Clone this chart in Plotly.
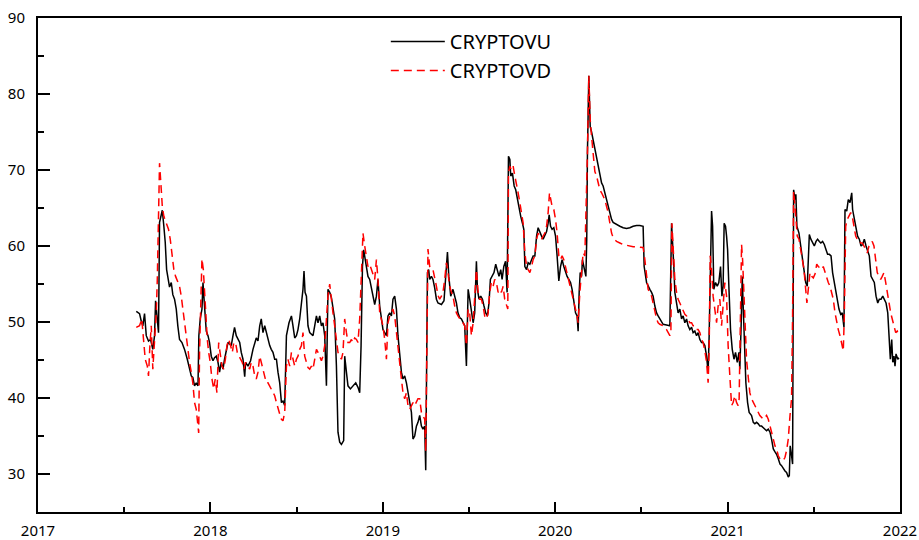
import plotly.graph_objects as go

# CRYPTOVU (black, solid) — decimal-year time and index value
U_t = [
    2017.570, 2017.589, 2017.599, 2017.608, 2017.618, 2017.628, 2017.641, 2017.653, 2017.666, 2017.676,
    2017.682, 2017.692, 2017.699, 2017.705, 2017.721, 2017.730, 2017.738, 2017.746, 2017.757, 2017.763,
    2017.773, 2017.782, 2017.792, 2017.802, 2017.811, 2017.821, 2017.835, 2017.850, 2017.866, 2017.879,
    2017.889, 2017.898, 2017.908, 2017.918, 2017.928, 2017.933, 2017.941, 2017.951, 2017.957, 2017.962,
    2017.970, 2017.976, 2017.986, 2017.995, 2018.005, 2018.015, 2018.024, 2018.034, 2018.044, 2018.053,
    2018.063, 2018.073, 2018.082, 2018.092, 2018.102, 2018.111, 2018.121, 2018.131, 2018.140, 2018.150,
    2018.160, 2018.170, 2018.179, 2018.189, 2018.199, 2018.204, 2018.218, 2018.233, 2018.247, 2018.257,
    2018.266, 2018.276, 2018.286, 2018.295, 2018.305, 2018.315, 2018.324, 2018.334, 2018.344, 2018.353,
    2018.363, 2018.373, 2018.383, 2018.392, 2018.402, 2018.412, 2018.421, 2018.431, 2018.441, 2018.456,
    2018.470, 2018.479, 2018.489, 2018.499, 2018.508, 2018.518, 2018.528, 2018.537, 2018.543, 2018.549,
    2018.557, 2018.566, 2018.576, 2018.586, 2018.595, 2018.605, 2018.615, 2018.624, 2018.634, 2018.644,
    2018.653, 2018.663, 2018.673, 2018.682, 2018.692, 2018.702, 2018.711, 2018.721, 2018.731, 2018.740,
    2018.750, 2018.760, 2018.773, 2018.779, 2018.789, 2018.798, 2018.812, 2018.827, 2018.843, 2018.856,
    2018.866, 2018.874, 2018.882, 2018.889, 2018.897, 2018.905, 2018.914, 2018.924, 2018.934, 2018.943,
    2018.953, 2018.963, 2018.972, 2018.982, 2018.992, 2019.001, 2019.011, 2019.021, 2019.030, 2019.040,
    2019.050, 2019.059, 2019.069, 2019.079, 2019.088, 2019.098, 2019.108, 2019.117, 2019.127, 2019.137,
    2019.146, 2019.156, 2019.166, 2019.175, 2019.185, 2019.195, 2019.204, 2019.214, 2019.224, 2019.233,
    2019.243, 2019.249, 2019.253, 2019.259, 2019.266, 2019.272, 2019.282, 2019.291, 2019.301, 2019.311,
    2019.320, 2019.340, 2019.355, 2019.365, 2019.375, 2019.383, 2019.394, 2019.407, 2019.417, 2019.427,
    2019.436, 2019.446, 2019.456, 2019.465, 2019.475, 2019.485, 2019.495, 2019.504, 2019.514, 2019.524,
    2019.533, 2019.543, 2019.549, 2019.558, 2019.568, 2019.578, 2019.587, 2019.597, 2019.607, 2019.616,
    2019.624, 2019.634, 2019.645, 2019.655, 2019.665, 2019.674, 2019.684, 2019.692, 2019.702, 2019.712,
    2019.721, 2019.729, 2019.737, 2019.742, 2019.752, 2019.762, 2019.771, 2019.781, 2019.791, 2019.800,
    2019.810, 2019.818, 2019.824, 2019.834, 2019.843, 2019.853, 2019.863, 2019.872, 2019.882, 2019.892,
    2019.901, 2019.911, 2019.921, 2019.930, 2019.940, 2019.950, 2019.959, 2019.965, 2019.973, 2019.982,
    2019.992, 2020.002, 2020.011, 2020.021, 2020.031, 2020.040, 2020.050, 2020.060, 2020.069, 2020.079,
    2020.089, 2020.098, 2020.108, 2020.118, 2020.127, 2020.133, 2020.139, 2020.145, 2020.153, 2020.158,
    2020.166, 2020.172, 2020.178, 2020.183, 2020.187, 2020.195, 2020.203, 2020.211, 2020.220, 2020.230,
    2020.240, 2020.249, 2020.259, 2020.269, 2020.278, 2020.288, 2020.298, 2020.307, 2020.317, 2020.327,
    2020.336, 2020.356, 2020.375, 2020.394, 2020.414, 2020.433, 2020.452, 2020.472, 2020.491, 2020.510,
    2020.516, 2020.530, 2020.539, 2020.549, 2020.559, 2020.568, 2020.578, 2020.588, 2020.597, 2020.607,
    2020.617, 2020.626, 2020.646, 2020.665, 2020.675, 2020.681, 2020.688, 2020.694, 2020.704, 2020.713,
    2020.723, 2020.733, 2020.742, 2020.752, 2020.762, 2020.771, 2020.781, 2020.791, 2020.800, 2020.810,
    2020.820, 2020.829, 2020.839, 2020.849, 2020.858, 2020.868, 2020.878, 2020.887, 2020.893, 2020.901,
    2020.907, 2020.913, 2020.920, 2020.930, 2020.940, 2020.949, 2020.959, 2020.967, 2020.974, 2020.980,
    2020.988, 2020.994, 2021.000, 2021.008, 2021.017, 2021.027, 2021.037, 2021.046, 2021.056, 2021.066,
    2021.071, 2021.079, 2021.085, 2021.091, 2021.096, 2021.106, 2021.116, 2021.125, 2021.139, 2021.149,
    2021.158, 2021.168, 2021.178, 2021.187, 2021.197, 2021.207, 2021.216, 2021.226, 2021.236, 2021.246,
    2021.255, 2021.265, 2021.275, 2021.284, 2021.294, 2021.304, 2021.313, 2021.323, 2021.333, 2021.342,
    2021.352, 2021.358, 2021.363, 2021.371, 2021.377, 2021.383, 2021.391, 2021.396, 2021.402, 2021.414,
    2021.424, 2021.433, 2021.443, 2021.453, 2021.462, 2021.468, 2021.474, 2021.483, 2021.493, 2021.503,
    2021.513, 2021.522, 2021.532, 2021.541, 2021.551, 2021.561, 2021.571, 2021.580, 2021.590, 2021.600,
    2021.609, 2021.619, 2021.629, 2021.636, 2021.646, 2021.656, 2021.665, 2021.675, 2021.681, 2021.691,
    2021.700, 2021.710, 2021.720, 2021.725, 2021.735, 2021.745, 2021.754, 2021.764, 2021.774, 2021.783,
    2021.793, 2021.803, 2021.812, 2021.822, 2021.832, 2021.842, 2021.851, 2021.861, 2021.871, 2021.880,
    2021.890, 2021.900, 2021.909, 2021.919, 2021.929, 2021.938, 2021.944, 2021.952, 2021.958, 2021.965,
    2021.971, 2021.977, 2021.987, 2021.994,
]
U_v = [
    51.4, 51.1, 50.1, 49.5, 51.1, 48.2, 47.5, 47.7, 46.4, 48.2,
    52.8, 50.1, 48.6, 63.1, 64.7, 62.6, 60.5, 56.9, 55.6, 54.6,
    55.2, 53.6, 53.0, 51.7, 49.5, 47.7, 47.3, 46.4, 45.1, 43.8,
    42.9, 42.7, 41.6, 42.0, 41.6, 48.2, 50.4, 51.7, 55.2, 53.4,
    50.4, 48.8, 48.2, 47.3, 45.5, 44.9, 45.3, 45.5, 44.7, 43.4,
    44.7, 43.8, 45.1, 46.0, 47.3, 47.1, 46.9, 48.2, 49.3, 48.2,
    47.7, 47.3, 46.0, 45.1, 42.8, 44.7, 44.2, 44.9, 46.4, 47.3,
    47.9, 47.5, 49.5, 50.4, 48.6, 49.5, 48.6, 47.5, 46.9, 46.4,
    46.0, 45.1, 45.1, 43.4, 42.0, 39.4, 39.6, 39.0, 48.2, 49.9,
    50.8, 49.5, 47.9, 48.2, 49.0, 50.4, 52.5, 54.3, 56.7, 53.9,
    53.4, 49.5, 48.6, 48.4, 48.2, 49.5, 50.8, 49.9, 50.8, 49.5,
    49.9, 48.2, 41.6, 54.3, 53.9, 53.2, 52.1, 50.4, 44.2, 35.5,
    34.2, 33.9, 34.4, 45.5, 43.4, 41.6, 41.2, 41.6, 42.0, 41.4,
    40.7, 46.9, 57.3, 59.5, 58.2, 57.3, 56.0, 55.6, 54.3, 53.4,
    52.3, 53.4, 55.6, 52.1, 50.4, 49.0, 48.6, 48.2, 50.8, 51.2,
    50.8, 53.0, 53.4, 51.7, 48.2, 45.5, 43.4, 42.5, 42.9, 42.0,
    40.7, 39.4, 38.1, 34.6, 35.0, 36.3, 36.8, 37.7, 36.3, 35.9,
    36.3, 30.5, 44.7, 56.5, 56.9, 55.6, 56.0, 55.6, 54.5, 53.0,
    52.5, 52.3, 52.8, 56.0, 59.2, 56.0, 53.4, 54.3, 53.4, 52.5,
    51.2, 50.6, 50.4, 49.9, 49.5, 44.2, 54.3, 53.0, 51.2, 49.9,
    51.2, 58.0, 54.3, 53.0, 53.4, 53.0, 52.1, 51.2, 50.8, 52.5,
    55.6, 56.0, 56.5, 57.6, 56.5, 56.0, 56.9, 55.6, 57.3, 58.0,
    53.9, 71.8, 71.4, 69.2, 69.6, 67.9, 67.4, 66.1, 65.2, 63.9,
    63.0, 62.2, 57.3, 56.9, 57.8, 57.6, 58.2, 58.7, 58.7, 61.3,
    62.4, 61.7, 61.3, 60.9, 61.5, 61.9, 63.0, 64.1, 62.6, 62.2,
    62.4, 61.3, 58.7, 55.4, 57.3, 58.2, 57.3, 56.5, 56.0, 55.6,
    55.2, 54.3, 53.0, 51.2, 50.8, 48.8, 53.9, 56.5, 56.0, 58.2,
    57.3, 56.5, 56.0, 60.9, 72.2, 82.4, 75.7, 75.0, 74.0, 72.4,
    71.4, 70.5, 69.2, 68.3, 67.9, 67.0, 66.1, 65.2, 64.4, 63.5,
    63.1, 62.8, 62.6, 62.4, 62.3, 62.4, 62.6, 62.7, 62.7, 62.6,
    57.3, 55.2, 54.7, 54.3, 53.9, 53.4, 52.1, 51.2, 50.8, 50.4,
    49.9, 49.7, 49.6, 49.5, 63.0, 60.9, 57.3, 53.9, 52.5, 51.2,
    51.7, 50.4, 50.8, 49.9, 50.4, 49.5, 49.0, 49.3, 48.6, 48.8,
    48.2, 48.6, 47.7, 47.3, 47.3, 46.9, 45.5, 43.4, 48.2, 59.5,
    64.6, 62.6, 54.3, 55.2, 54.7, 55.2, 57.3, 53.4, 54.7, 63.0,
    62.6, 61.3, 59.5, 54.3, 49.0, 46.4, 45.1, 46.0, 44.7, 46.0,
    43.8, 49.9, 56.0, 51.7, 47.3, 42.0, 39.4, 38.1, 37.7, 36.8,
    36.6, 36.8, 36.6, 36.3, 36.3, 36.1, 35.9, 35.7, 35.9, 35.5,
    34.6, 33.3, 32.9, 32.6, 32.0, 31.3, 31.1, 30.7, 30.4, 30.2,
    29.6, 29.8, 33.7, 32.4, 31.3, 67.4, 66.1, 66.8, 62.6, 61.7,
    60.0, 58.2, 56.5, 55.2, 54.7, 57.3, 61.5, 60.9, 60.4, 60.0,
    60.6, 60.9, 60.6, 60.4, 60.6, 60.2, 59.5, 58.9, 58.9, 58.7,
    56.5, 55.2, 53.9, 53.4, 51.7, 51.0, 51.2, 49.3, 64.8, 64.6,
    66.1, 65.7, 67.0, 64.8, 63.5, 61.9, 61.3, 60.9, 60.0, 60.2,
    60.9, 60.0, 59.5, 58.7, 56.0, 55.6, 55.2, 53.4, 52.5, 53.0,
    53.0, 53.4, 53.0, 52.5, 51.2, 48.2, 45.1, 47.7, 44.7, 45.5,
    44.2, 45.8, 45.1, 45.3,
]

# CRYPTOVD (red, dashed)
D_t = [
    2017.570, 2017.589, 2017.602, 2017.612, 2017.622, 2017.634, 2017.641, 2017.649, 2017.657, 2017.666,
    2017.676, 2017.686, 2017.692, 2017.699, 2017.705, 2017.715, 2017.721, 2017.730, 2017.744, 2017.757,
    2017.767, 2017.777, 2017.788, 2017.798, 2017.811, 2017.821, 2017.831, 2017.840, 2017.850, 2017.860,
    2017.869, 2017.879, 2017.889, 2017.898, 2017.908, 2017.918, 2017.928, 2017.932, 2017.937, 2017.943,
    2017.951, 2017.959, 2017.966, 2017.974, 2017.982, 2017.990, 2017.999, 2018.009, 2018.019, 2018.028,
    2018.038, 2018.048, 2018.058, 2018.067, 2018.077, 2018.087, 2018.096, 2018.106, 2018.117, 2018.127,
    2018.136, 2018.146, 2018.156, 2018.165, 2018.175, 2018.185, 2018.194, 2018.204, 2018.218, 2018.228,
    2018.237, 2018.247, 2018.257, 2018.266, 2018.276, 2018.286, 2018.295, 2018.305, 2018.315, 2018.324,
    2018.334, 2018.344, 2018.353, 2018.363, 2018.373, 2018.383, 2018.392, 2018.402, 2018.412, 2018.421,
    2018.431, 2018.441, 2018.450, 2018.460, 2018.470, 2018.479, 2018.489, 2018.499, 2018.508, 2018.518,
    2018.528, 2018.537, 2018.547, 2018.557, 2018.566, 2018.576, 2018.586, 2018.595, 2018.605, 2018.615,
    2018.624, 2018.634, 2018.644, 2018.653, 2018.663, 2018.673, 2018.682, 2018.692, 2018.702, 2018.711,
    2018.721, 2018.731, 2018.740, 2018.750, 2018.760, 2018.769, 2018.779, 2018.789, 2018.798, 2018.808,
    2018.818, 2018.827, 2018.837, 2018.847, 2018.856, 2018.866, 2018.876, 2018.885, 2018.895, 2018.905,
    2018.914, 2018.924, 2018.934, 2018.943, 2018.953, 2018.963, 2018.972, 2018.982, 2018.992, 2019.001,
    2019.011, 2019.021, 2019.030, 2019.040, 2019.050, 2019.059, 2019.069, 2019.079, 2019.088, 2019.098,
    2019.108, 2019.117, 2019.127, 2019.137, 2019.146, 2019.156, 2019.166, 2019.175, 2019.185, 2019.195,
    2019.204, 2019.214, 2019.224, 2019.233, 2019.243, 2019.249, 2019.255, 2019.262, 2019.272, 2019.282,
    2019.291, 2019.301, 2019.311, 2019.320, 2019.330, 2019.340, 2019.349, 2019.359, 2019.369, 2019.378,
    2019.388, 2019.398, 2019.407, 2019.417, 2019.427, 2019.436, 2019.446, 2019.456, 2019.465, 2019.475,
    2019.485, 2019.495, 2019.504, 2019.514, 2019.524, 2019.533, 2019.543, 2019.553, 2019.562, 2019.572,
    2019.582, 2019.591, 2019.601, 2019.611, 2019.620, 2019.630, 2019.640, 2019.649, 2019.659, 2019.669,
    2019.678, 2019.688, 2019.698, 2019.707, 2019.717, 2019.725, 2019.729, 2019.737, 2019.746, 2019.756,
    2019.766, 2019.775, 2019.785, 2019.795, 2019.804, 2019.814, 2019.824, 2019.834, 2019.843, 2019.853,
    2019.863, 2019.872, 2019.882, 2019.892, 2019.901, 2019.911, 2019.921, 2019.930, 2019.940, 2019.950,
    2019.959, 2019.967, 2019.975, 2019.982, 2019.992, 2020.002, 2020.011, 2020.021, 2020.031, 2020.040,
    2020.050, 2020.060, 2020.069, 2020.079, 2020.089, 2020.098, 2020.108, 2020.118, 2020.127, 2020.133,
    2020.143, 2020.153, 2020.162, 2020.172, 2020.182, 2020.187, 2020.195, 2020.203, 2020.211, 2020.220,
    2020.230, 2020.240, 2020.249, 2020.259, 2020.269, 2020.278, 2020.288, 2020.298, 2020.307, 2020.317,
    2020.327, 2020.336, 2020.356, 2020.375, 2020.394, 2020.414, 2020.433, 2020.452, 2020.472, 2020.491,
    2020.510, 2020.520, 2020.530, 2020.539, 2020.549, 2020.559, 2020.568, 2020.578, 2020.588, 2020.597,
    2020.607, 2020.626, 2020.646, 2020.665, 2020.671, 2020.677, 2020.684, 2020.694, 2020.704, 2020.713,
    2020.723, 2020.733, 2020.742, 2020.752, 2020.762, 2020.771, 2020.781, 2020.791, 2020.800, 2020.810,
    2020.820, 2020.829, 2020.839, 2020.849, 2020.858, 2020.868, 2020.878, 2020.887, 2020.893, 2020.899,
    2020.907, 2020.916, 2020.926, 2020.936, 2020.945, 2020.955, 2020.965, 2020.974, 2020.984, 2020.994,
    2021.003, 2021.013, 2021.023, 2021.032, 2021.042, 2021.052, 2021.061, 2021.067, 2021.075, 2021.081,
    2021.087, 2021.095, 2021.102, 2021.110, 2021.120, 2021.129, 2021.139, 2021.149, 2021.158, 2021.168,
    2021.178, 2021.187, 2021.207, 2021.226, 2021.236, 2021.246, 2021.255, 2021.265, 2021.275, 2021.284,
    2021.294, 2021.304, 2021.313, 2021.323, 2021.333, 2021.342, 2021.352, 2021.362, 2021.371, 2021.377,
    2021.383, 2021.391, 2021.396, 2021.404, 2021.414, 2021.424, 2021.433, 2021.443, 2021.453, 2021.460,
    2021.468, 2021.478, 2021.488, 2021.497, 2021.507, 2021.517, 2021.526, 2021.536, 2021.546, 2021.555,
    2021.565, 2021.575, 2021.584, 2021.594, 2021.604, 2021.613, 2021.623, 2021.633, 2021.642, 2021.652,
    2021.662, 2021.671, 2021.677, 2021.685, 2021.694, 2021.704, 2021.714, 2021.723, 2021.733, 2021.743,
    2021.752, 2021.762, 2021.772, 2021.781, 2021.791, 2021.801, 2021.810, 2021.820, 2021.830, 2021.839,
    2021.849, 2021.859, 2021.868, 2021.878, 2021.888, 2021.897, 2021.907, 2021.917, 2021.926, 2021.936,
    2021.946, 2021.955, 2021.965, 2021.975, 2021.984, 2021.994,
]
D_v = [
    49.3, 49.5, 50.4, 47.7, 45.1, 44.2, 42.9, 46.9, 49.5, 43.8,
    47.7, 51.2, 55.6, 62.6, 70.9, 67.4, 65.2, 63.9, 63.0, 62.2,
    60.9, 59.1, 56.9, 56.0, 55.2, 54.7, 53.4, 51.7, 49.9, 48.2,
    46.0, 44.7, 43.4, 42.0, 39.4, 38.5, 36.3, 35.4, 46.0, 53.4,
    58.3, 56.9, 53.9, 50.8, 47.7, 46.0, 44.7, 42.5, 41.2, 42.5,
    40.7, 47.3, 45.5, 44.2, 43.8, 45.1, 46.9, 47.7, 46.9, 46.0,
    47.3, 47.3, 46.0, 45.5, 45.1, 44.7, 43.8, 44.7, 44.2, 43.8,
    44.7, 44.2, 42.9, 42.5, 43.4, 45.5, 44.7, 43.8, 42.9, 42.0,
    42.0, 41.6, 41.2, 40.7, 40.3, 39.4, 38.5, 37.9, 37.2, 37.0,
    38.1, 44.2, 45.1, 44.2, 46.0, 45.1, 44.2, 45.1, 45.5, 46.4,
    46.9, 48.6, 45.5, 44.7, 44.0, 43.8, 44.2, 43.8, 45.1, 46.4,
    46.0, 45.3, 44.9, 45.5, 46.9, 50.4, 53.4, 55.0, 52.5, 51.2,
    49.5, 47.7, 46.0, 45.5, 45.1, 46.0, 50.4, 48.6, 47.3, 47.3,
    47.7, 47.3, 47.9, 47.7, 47.3, 50.4, 55.6, 61.7, 60.0, 58.2,
    57.3, 57.6, 56.9, 56.0, 55.6, 58.2, 55.6, 51.2, 50.4, 49.5,
    47.7, 45.1, 49.9, 50.8, 51.2, 51.7, 50.8, 48.6, 46.0, 44.2,
    42.5, 40.7, 39.9, 40.7, 39.0, 38.5, 39.0, 39.4, 39.0, 39.4,
    39.9, 39.9, 38.1, 37.7, 37.2, 33.0, 51.2, 59.6, 57.3, 56.9,
    56.9, 56.0, 54.7, 53.5, 53.0, 53.4, 53.9, 55.6, 57.8, 56.5,
    54.7, 53.9, 53.4, 52.1, 51.2, 50.8, 50.4, 50.1, 49.9, 49.5,
    46.9, 51.7, 51.2, 48.2, 49.9, 53.0, 56.9, 53.9, 53.0, 53.0,
    52.1, 50.8, 50.4, 51.2, 53.9, 55.2, 54.7, 55.6, 55.2, 53.9,
    54.3, 53.9, 54.7, 53.0, 52.1, 51.7, 69.6, 70.5, 70.0, 70.5,
    69.2, 67.9, 67.0, 65.7, 64.4, 63.0, 59.1, 57.3, 56.9, 56.5,
    57.3, 58.2, 58.7, 60.9, 61.7, 61.3, 60.9, 61.3, 61.7, 62.6,
    64.4, 67.0, 65.7, 65.2, 64.8, 63.5, 61.7, 58.7, 58.2, 58.7,
    58.2, 57.3, 56.5, 55.6, 54.7, 53.9, 53.0, 51.7, 50.8, 49.9,
    53.9, 56.5, 59.1, 58.7, 65.7, 72.2, 82.4, 76.6, 74.4, 71.6,
    69.8, 69.2, 68.3, 67.4, 67.0, 66.5, 66.1, 65.2, 64.4, 63.0,
    61.7, 61.1, 60.6, 60.4, 60.2, 60.1, 60.0, 59.9, 59.9, 59.8,
    59.8, 58.2, 55.6, 54.3, 53.9, 53.4, 52.5, 51.2, 50.4, 49.9,
    49.7, 49.5, 49.0, 48.2, 48.6, 63.0, 60.0, 55.6, 53.9, 53.0,
    52.5, 51.9, 51.4, 51.0, 50.8, 50.4, 49.9, 49.9, 49.5, 49.5,
    49.0, 49.0, 48.6, 47.7, 47.3, 46.2, 44.7, 42.0, 46.4, 58.7,
    56.9, 53.4, 51.7, 49.9, 52.1, 53.0, 49.5, 51.7, 55.2, 53.4,
    46.9, 42.9, 39.0, 39.4, 40.3, 39.4, 39.0, 39.9, 50.8, 60.2,
    58.2, 54.3, 49.9, 45.0, 42.7, 40.7, 39.9, 39.4, 39.0, 38.5,
    38.1, 37.7, 37.2, 37.7, 37.2, 36.3, 35.5, 34.6, 33.7, 33.3,
    32.4, 32.0, 31.8, 31.8, 32.2, 33.1, 34.6, 37.7, 39.9, 50.8,
    67.2, 65.2, 63.9, 61.3, 60.9, 59.5, 58.2, 56.9, 54.3, 52.5,
    54.3, 56.5, 56.0, 55.8, 56.3, 57.6, 57.3, 57.1, 56.9, 57.3,
    56.5, 55.6, 55.2, 54.7, 53.9, 53.0, 51.2, 49.9, 49.0, 48.2,
    47.3, 46.2, 50.8, 62.6, 63.5, 63.9, 64.4, 63.9, 62.6, 61.3,
    60.9, 60.9, 60.4, 60.4, 60.0, 59.5, 59.1, 60.0, 60.4, 60.6,
    60.0, 58.2, 56.5, 56.0, 55.6, 56.0, 56.5, 55.2, 53.9, 52.5,
    51.2, 50.4, 49.5, 48.6, 48.8, 48.2,
]

X_TICKS = [2017, 2018, 2019, 2020, 2021, 2022]
Y_TICKS = [30, 40, 50, 60, 70, 80, 90]

FONT = "Noto Sans"

fig = go.Figure()
fig.add_trace(go.Scatter(
    x=U_t, y=U_v, mode="lines", name="CRYPTOVU",
    line=dict(color="black", width=1.5),
))
fig.add_trace(go.Scatter(
    x=D_t, y=D_v, mode="lines", name="CRYPTOVD",
    line=dict(color="#ff0000", width=1.5, dash="8px,5px"),
))

axis_common = dict(
    showline=True, linecolor="black", linewidth=2, mirror=True,
    showgrid=False, zeroline=False, automargin=False,
    ticks="inside", tickcolor="black", tickwidth=2,
    tickfont=dict(family=FONT, size=15, color="black"),
)

fig.update_xaxes(
    range=[2017, 2022], tickvals=X_TICKS, ticktext=[str(v) for v in X_TICKS],
    ticklen=10, ticklabelstandoff=4,
    minor=dict(ticks="inside", ticklen=5, tickwidth=2, tickcolor="black", dtick=0.5, tick0=2017),
    **axis_common,
)
fig.update_yaxes(
    range=[25, 90], tickvals=Y_TICKS, ticklen=12, ticklabelstandoff=8,
    minor=dict(ticks="inside", ticklen=6, tickwidth=2, tickcolor="black", dtick=5, tick0=25),
    **axis_common,
)

fig.update_layout(
    width=919, height=540,
    margin=dict(l=38, r=19, t=18, b=28),
    paper_bgcolor="white", plot_bgcolor="white",
    font=dict(family=FONT, color="black"),
    showlegend=True,
    legend=dict(
        x=0.4035, y=0.992, xanchor="left", yanchor="top",
        bgcolor="rgba(0,0,0,0)", borderwidth=0,
        font=dict(family=FONT, size=20, color="black"),
        itemwidth=54,
    ),
)

fig.write_html(
    "out.html",
    config={"displayModeBar": False},
    post_script="document.body.style.margin='0';document.body.style.overflow='hidden';",
)
